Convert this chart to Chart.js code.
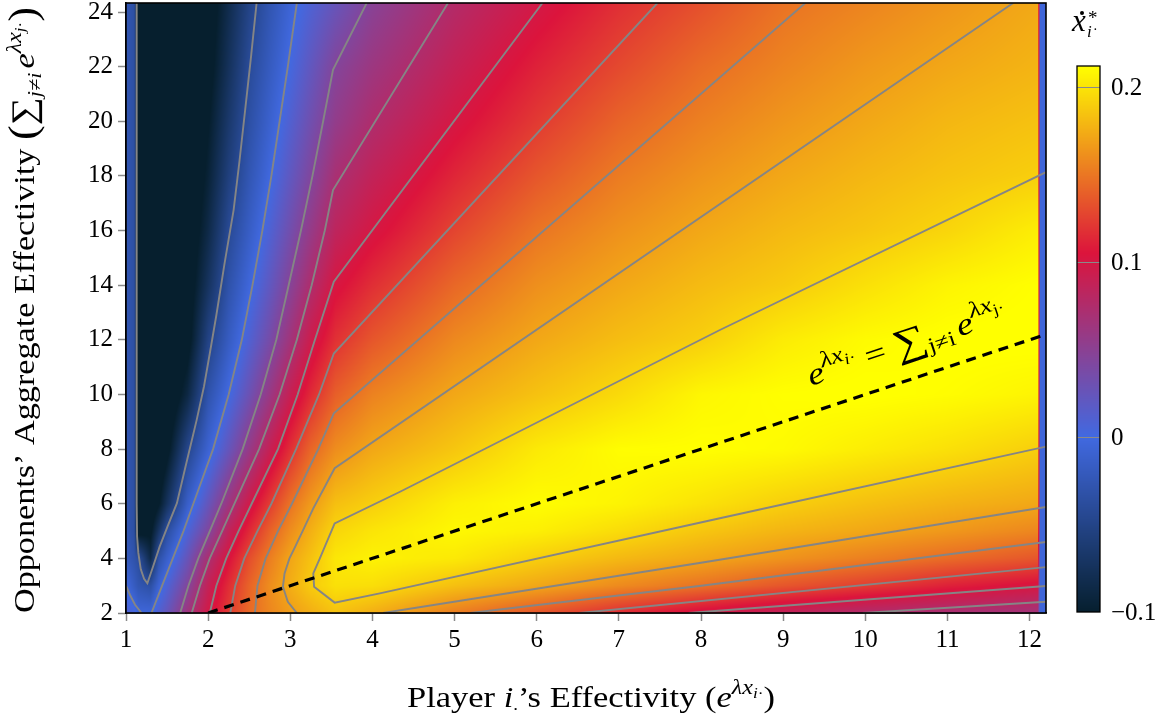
<!DOCTYPE html>
<html>
<head>
<meta charset="utf-8">
<script src="https://cdn.jsdelivr.net/npm/chart.js@4.4.1/dist/chart.umd.min.js"></script>
<style>
  html, body { margin: 0; padding: 0; background: #ffffff; }
  canvas { display: block; }
</style>
</head>
<body>
<canvas id="chart" width="1175" height="721"></canvas>
<script>
// Axis ticks
const xTicks = [1, 2, 3, 4, 5, 6, 7, 8, 9, 10, 11, 12];
const yTicks = [2, 4, 6, 8, 10, 12, 14, 16, 18, 20, 22, 24];

// Sample grid of the rate surface: columns (player effectivity), rows (opponents' aggregate)
const gridX = [1, 1.1, 1.15, 1.3, 1.4, 1.5, 1.75, 2, 2.25, 2.5, 2.75, 3, 3.25, 3.55, 4, 5, 6, 7, 8, 9, 10, 11, 12.1, 12.13, 12.2];
const gridY = [2, 3, 4, 5, 6, 8, 10, 12, 14, 16, 18, 20, 22, 24.33];
const rowY2  = [0.010, 0.004, -0.004, -0.004, 0.012, 0.024, 0.064, 0.098, 0.123, 0.144, 0.157, 0.167, 0.175, 0.184, 0.175, 0.153, 0.135, 0.116, 0.099, 0.086, 0.075, 0.070, 0.066, -0.005, -0.005];
const rowY3  = [-0.002, -0.018, -0.026, -0.034, -0.008, 0.008, 0.044, 0.088, 0.116, 0.141, 0.160, 0.175, 0.188, 0.198, 0.197, 0.183, 0.172, 0.159, 0.148, 0.135, 0.124, 0.111, 0.101, -0.005, -0.005];
const rowY4  = [-0.020, -0.030, -0.037, -0.085, -0.032, -0.013, 0.026, 0.071, 0.103, 0.131, 0.153, 0.171, 0.184, 0.201, 0.206, 0.202, 0.190, 0.180, 0.172, 0.163, 0.154, 0.145, 0.135, -0.005, -0.005];
const rowY5  = [-0.025, -0.035, -0.110, -0.105, -0.070, -0.036, 0.007, 0.042, 0.085, 0.114, 0.140, 0.160, 0.176, 0.193, 0.200, 0.209, 0.205, 0.196, 0.186, 0.178, 0.172, 0.165, 0.157, -0.005, -0.005];
const rowY6  = [-0.025, -0.035, -0.120, -0.120, -0.102, -0.074, -0.014, 0.024, 0.062, 0.096, 0.123, 0.148, 0.166, 0.183, 0.190, 0.205, 0.211, 0.207, 0.199, 0.190, 0.183, 0.177, 0.172, -0.005, -0.005];
const rowY8  = [-0.025, -0.035, -0.120, -0.125, -0.125, -0.108, -0.048, -0.009, 0.024, 0.057, 0.089, 0.117, 0.142, 0.160, 0.172, 0.186, 0.202, 0.211, 0.212, 0.210, 0.204, 0.198, 0.190, -0.005, -0.005];
const rowY10 = [-0.025, -0.035, -0.120, -0.130, -0.130, -0.125, -0.088, -0.030, 0.000, 0.029, 0.059, 0.090, 0.115, 0.139, 0.155, 0.172, 0.184, 0.195, 0.208, 0.212, 0.213, 0.211, 0.207, -0.005, -0.005];
const rowY12 = [-0.025, -0.035, -0.120, -0.130, -0.130, -0.130, -0.110, -0.052, -0.018, 0.010, 0.036, 0.065, 0.094, 0.118, 0.135, 0.158, 0.172, 0.182, 0.190, 0.203, 0.210, 0.213, 0.2135, -0.005, -0.005];
const rowY14 = [-0.025, -0.035, -0.120, -0.130, -0.130, -0.130, -0.115, -0.073, -0.031, -0.004, 0.021, 0.047, 0.074, 0.101, 0.117, 0.143, 0.161, 0.172, 0.181, 0.188, 0.198, 0.207, 0.212, -0.005, -0.005];
const rowY16 = [-0.025, -0.035, -0.120, -0.130, -0.130, -0.130, -0.120, -0.086, -0.043, -0.016, 0.009, 0.033, 0.057, 0.084, 0.100, 0.127, 0.149, 0.162, 0.172, 0.180, 0.186, 0.193, 0.204, -0.005, -0.005];
const rowY18 = [-0.025, -0.035, -0.120, -0.130, -0.130, -0.130, -0.125, -0.095, -0.056, -0.026, -0.002, 0.021, 0.043, 0.070, 0.087, 0.113, 0.135, 0.152, 0.163, 0.172, 0.179, 0.185, 0.190, -0.005, -0.005];
const rowY20 = [-0.025, -0.035, -0.120, -0.130, -0.130, -0.130, -0.128, -0.102, -0.066, -0.034, -0.011, 0.011, 0.032, 0.055, 0.074, 0.100, 0.122, 0.141, 0.154, 0.164, 0.172, 0.179, 0.184, -0.005, -0.005];
const rowY22 = [-0.025, -0.035, -0.120, -0.130, -0.130, -0.130, -0.130, -0.110, -0.075, -0.041, -0.019, 0.002, 0.022, 0.045, 0.062, 0.089, 0.111, 0.129, 0.145, 0.156, 0.165, 0.172, 0.178, -0.005, -0.005];
const rowY24 = [-0.025, -0.035, -0.120, -0.130, -0.130, -0.130, -0.130, -0.115, -0.083, -0.051, -0.027, -0.007, 0.009, 0.025, 0.048, 0.077, 0.098, 0.117, 0.132, 0.148, 0.156, 0.164, 0.173, -0.005, -0.005];

// Contour lines (level curves of the rate surface)
const contourL1  = [[1.13,24.33],[1.13,6],[1.135,4.8],[1.15,4.2],[1.18,3.6],[1.22,3.25],[1.26,3.09],[1.33,3.7],[1.41,4.43],[1.51,5.2],[1.62,6.02],[1.72,7.3],[1.86,9.06],[1.95,10.3],[2.02,11.5],[2.10,12.9],[2.20,14.8],[2.31,16.75],[2.38,18.5],[2.45,20.4],[2.52,22.3],[2.59,24.33]];
const contourL2a = [[1.0,3.0],[1.05,2.65],[1.11,2.3],[1.19,2.0]];
const contourL2  = [[1.31,2],[1.44,3],[1.57,4],[1.70,5],[1.82,6],[2.06,8],[2.25,10],[2.41,12],[2.54,14],[2.66,16],[2.77,18],[2.87,20],[2.97,22],[3.08,24.33]];
const contourL3  = [[1.66,2],[1.76,3],[1.88,4],[2.02,5],[2.16,6],[2.42,8],[2.64,10],[2.83,12],[2.98,14],[3.13,16],[3.27,18],[3.40,20],[3.52,21.88],[3.93,24.33]];
const contourL4  = [[1.80,2],[1.90,3],[2.02,4],[2.17,5],[2.32,6],[2.62,8],[2.87,10],[3.08,12],[3.26,14],[3.42,16],[3.52,17.48],[4.92,24.33]];
const contourL4b = [[9.97,2],[12.2,2.41]];
const contourL5  = [[2.02,2],[2.10,3],[2.22,4],[2.37,5],[2.53,6],[2.85,8],[3.09,10],[3.30,12],[3.53,14.13],[6.07,24.33]];
const contourL5b = [[7.85,2],[12.2,2.99]];
const contourL6  = [[2.27,2],[2.33,3],[2.44,4],[2.60,5],[2.77,6],[3.07,8],[3.35,10],[3.53,11.5],[7.47,24.33]];
const contourL6b = [[6.52,2],[12.2,3.68]];
const contourL7  = [[2.57,2],[2.60,3],[2.70,4],[2.85,5],[3.02,6],[3.34,8],[3.53,9.31],[9.27,24.33]];
const contourL7b = [[5.19,2],[7.98,2.99],[12.2,4.6]];
const contourL8  = [[3.08,2],[2.97,2.41],[2.91,2.96],[2.93,3.45],[2.99,4.0],[3.06,4.43],[3.15,5.0],[3.28,5.83],[3.54,7.30],[11.8,24.33]];
const contourL8b = [[4.13,2],[8.0,3.84],[12.2,5.88]];
const contourL9  = [[12.2,18.14],[8.23,12.36],[4.33,6.43],[3.54,5.28],[3.36,4.0],[3.28,3.45],[3.29,2.96],[3.54,2.38],[4.09,2.72],[8.23,5.47],[12.2,8.09]];

// Equal-effectivity line
const parityLine = [[2, 2], [12.2, 12.2]];

// Colour bar
const cbTicks = [-0.1, 0, 0.1, 0.2];
const cbLabels = ['\u22120.1', '0', '0.1', '0.2'];

const gridZ = [rowY2, rowY3, rowY4, rowY5, rowY6, rowY8, rowY10, rowY12, rowY14, rowY16, rowY18, rowY20, rowY22, rowY24];
const contours = [contourL1, contourL2a, contourL2, contourL3, contourL4, contourL4b, contourL5, contourL5b,
                  contourL6, contourL6b, contourL7, contourL7b, contourL8, contourL8b, contourL9];

const SERIF = '"Liberation Serif", "DejaVu Serif", serif';
const cmapStops = [-0.1, 0, 0.105, 0.212];
const cmapRGB = [[6, 31, 46], [65, 105, 225], [220, 20, 60], [255, 255, 0]];
const cbMin = -0.1, cbMax = 0.212;

function colorAt(v) {
  if (v <= cmapStops[0]) return cmapRGB[0];
  if (v >= cmapStops[cmapStops.length - 1]) return cmapRGB[cmapRGB.length - 1];
  for (let i = 0; i < cmapStops.length - 1; i++) {
    if (v <= cmapStops[i + 1]) {
      const t = (v - cmapStops[i]) / (cmapStops[i + 1] - cmapStops[i]);
      const a = cmapRGB[i], b = cmapRGB[i + 1];
      return [a[0] + (b[0] - a[0]) * t, a[1] + (b[1] - a[1]) * t, a[2] + (b[2] - a[2]) * t];
    }
  }
  return cmapRGB[0];
}

function locate(arr, v) {
  if (v <= arr[0]) return [0, 0];
  const n = arr.length;
  if (v >= arr[n - 1]) return [n - 2, 1];
  let k = 0;
  while (k < n - 2 && v > arr[k + 1]) k++;
  return [k, (v - arr[k]) / (arr[k + 1] - arr[k])];
}

// Shaded surface, drawn through the chart's own scales
const surfacePlugin = {
  id: 'surface',
  beforeDatasetsDraw(chart) {
    const { ctx, chartArea: a, scales } = chart;
    const left = Math.round(a.left), top = Math.round(a.top);
    const w = Math.round(a.right) - left, h = Math.round(a.bottom) - top;
    const img = ctx.createImageData(w, h);
    const cols = [], rows = [];
    for (let i = 0; i < w; i++) cols.push(locate(gridX, scales.x.getValueForPixel(left + i + 0.5)));
    for (let j = 0; j < h; j++) rows.push(locate(gridY, scales.y.getValueForPixel(top + j + 0.5)));
    let p = 0;
    for (let j = 0; j < h; j++) {
      const [r, fy] = rows[j];
      const z0 = gridZ[r], z1 = gridZ[r + 1];
      for (let i = 0; i < w; i++) {
        const [c, fx] = cols[i];
        const v = (1 - fy) * ((1 - fx) * z0[c] + fx * z0[c + 1]) + fy * ((1 - fx) * z1[c] + fx * z1[c + 1]);
        const col = colorAt(v);
        img.data[p++] = col[0]; img.data[p++] = col[1]; img.data[p++] = col[2]; img.data[p++] = 255;
      }
    }
    ctx.putImageData(img, left, top);
  }
};

function fontOf(size, italic) { return (italic ? 'italic ' : '') + size + 'px ' + SERIF; }
function richWidth(ctx, parts, base) {
  let w = 0;
  for (const p of parts) { ctx.font = fontOf(base * (p.s || 1), p.it); w += ctx.measureText(p.t).width; }
  return w;
}
function richDraw(ctx, parts, x, y, base) {
  let cx = x;
  for (const p of parts) {
    ctx.font = fontOf(base * (p.s || 1), p.it);
    ctx.fillText(p.t, cx, y + (p.dy || 0) * base);
    cx += ctx.measureText(p.t).width;
  }
}
// Draw rich text on a baseline through (cx, cy), rotated, stretched to a given length
function richPlaced(ctx, parts, base, cx, cy, angle, length, align) {
  const w = richWidth(ctx, parts, base);
  const sx = length ? length / w : 1;
  ctx.save();
  ctx.translate(cx, cy);
  ctx.rotate(angle);
  ctx.scale(sx, 1);
  ctx.fillStyle = '#000';
  ctx.textBaseline = 'alphabetic';
  ctx.textAlign = 'left';
  richDraw(ctx, parts, align === 'left' ? 0 : -w / 2, 0, base);
  ctx.restore();
}

const decorPlugin = {
  id: 'decor',
  afterDatasetsDraw(chart) {
    const { ctx, chartArea: a, scales } = chart;
    // frame
    ctx.save();
    ctx.strokeStyle = '#000';
    ctx.lineWidth = 1.6;
    ctx.strokeRect(a.left, a.top, a.right - a.left, a.bottom - a.top);
    ctx.restore();

    // label along the equal-effectivity line
    const p0x = scales.x.getPixelForValue(2), p0y = scales.y.getPixelForValue(2);
    const p1x = scales.x.getPixelForValue(12.2), p1y = scales.y.getPixelForValue(12.2);
    const ang = Math.atan2(p1y - p0y, p1x - p0x);
    const eqParts = [
      { t: 'e', it: true }, { t: '\u03BBx', it: true, s: 0.72, dy: -0.45 }, { t: 'i', it: true, s: 0.5, dy: -0.3 }, { t: '\u00B7', s: 0.5, dy: -0.3 },
      { t: ' = ' }, { t: '\u2211', s: 1.25, dy: 0.04 }, { t: 'j\u2260i', s: 0.68, dy: 0.2 }, { t: ' ', s: 0.5 },
      { t: 'e', it: true }, { t: '\u03BBx', it: true, s: 0.72, dy: -0.45 }, { t: 'j', s: 0.5, dy: -0.3 }, { t: '\u00B7', s: 0.5, dy: -0.3 }
    ];
    richPlaced(ctx, eqParts, 31, 811, 386, ang, 208, 'left');
  },
  afterDraw(chart) {
    const { ctx } = chart;
    // colour bar
    const L = 1077, R = 1100, T = 66, B = 612;
    const vToPx = v => B - (v - cbMin) / (cbMax - cbMin) * (B - T);
    for (let py = T; py < B; py++) {
      const v = cbMax - (py + 0.5 - T) / (B - T) * (cbMax - cbMin);
      const c = colorAt(v);
      ctx.fillStyle = 'rgb(' + Math.round(c[0]) + ',' + Math.round(c[1]) + ',' + Math.round(c[2]) + ')';
      ctx.fillRect(L, py, R - L, 1);
    }
    ctx.save();
    ctx.strokeStyle = '#8a8a8a';
    ctx.lineWidth = 1;
    cbTicks.forEach(v => {
      if (v > cbMin) {
        const y = Math.round(vToPx(v)) + 0.5;
        ctx.beginPath(); ctx.moveTo(L, y); ctx.lineTo(R, y); ctx.stroke();
      }
    });
    ctx.strokeStyle = '#000';
    ctx.lineWidth = 1.3;
    ctx.strokeRect(L, T, R - L, B - T);
    ctx.fillStyle = '#000';
    ctx.font = fontOf(25, false);
    ctx.textBaseline = 'middle';
    ctx.textAlign = 'left';
    cbTicks.forEach((v, i) => ctx.fillText(cbLabels[i], 1111, vToPx(v) + 1));
    ctx.restore();

    // colour bar title: x-dot star, subscript i·
    ctx.save();
    ctx.fillStyle = '#000';
    ctx.textBaseline = 'alphabetic';
    ctx.font = fontOf(31, true);
    ctx.fillText('x', 1072, 31);
    ctx.beginPath(); ctx.arc(1082, 13, 2, 0, Math.PI * 2); ctx.fill();
    ctx.font = fontOf(19, false);
    ctx.fillText('*', 1088, 24);
    ctx.font = fontOf(17, true);
    ctx.fillText('i', 1087, 37);
    ctx.font = fontOf(14, false);
    ctx.fillText('\u00B7', 1093, 34);
    ctx.restore();

    // x axis title
    const xParts = [
      { t: 'Player ' }, { t: 'i', it: true }, { t: '.', s: 0.55, dy: 0.1 }, { t: '\u2019s Effectivity (' },
      { t: 'e', it: true }, { t: '\u03BBx', it: true, s: 0.7, dy: -0.45 }, { t: 'i', it: true, s: 0.5, dy: -0.3 }, { t: '\u00B7', s: 0.5, dy: -0.3 },
      { t: ')' }
    ];
    richPlaced(ctx, xParts, 30, 591, 707, 0, 368);

    // y axis title
    const yParts = [
      { t: 'Opponents\u2019 Aggregate Effectivity ' }, { t: '(', s: 1.3, dy: 0.06 },
      { t: '\u2211', s: 1.15, dy: 0.04 }, { t: 'j\u2260i', it: true, s: 0.65, dy: 0.22 }, { t: ' ', s: 0.5 },
      { t: 'e', it: true }, { t: '\u03BBx', it: true, s: 0.7, dy: -0.45 }, { t: 'j', it: true, s: 0.5, dy: -0.3 }, { t: '\u00B7', s: 0.5, dy: -0.3 },
      { t: ')', s: 1.3, dy: 0.06 }
    ];
    richPlaced(ctx, yParts, 30, 34, 310, -Math.PI / 2, 606);
  }
};

const toPts = arr => arr.map(p => ({ x: p[0], y: p[1] }));

const datasets = [
  {
    data: toPts(parityLine), showLine: true, borderColor: '#000000', borderWidth: 3.2,
    borderDash: [10, 7], pointRadius: 0, fill: false, tension: 0
  }
].concat(contours.map(c => ({
  data: toPts(c), showLine: true, borderColor: '#858585', borderWidth: 1.9,
  pointRadius: 0, fill: false, tension: 0
})));

new Chart(document.getElementById('chart'), {
  type: 'scatter',
  data: { datasets },
  options: {
    responsive: false,
    animation: false,
    events: [],
    layout: { padding: { left: 0, top: 3, right: 129, bottom: 0 } },
    plugins: { legend: { display: false }, tooltip: { enabled: false } },
    scales: {
      x: {
        type: 'linear', min: 1, max: 12.2,
        afterBuildTicks: s => { s.ticks = xTicks.map(v => ({ value: v })); },
        afterFit: s => { s.height = 108; s.paddingLeft = 0; s.paddingRight = 0; },
        ticks: { color: '#000', font: { family: SERIF, size: 25 }, padding: 4, maxRotation: 0, autoSkip: false },
        grid: { display: true, drawOnChartArea: false, drawTicks: true, tickLength: 8, tickColor: '#8a8a8a', tickWidth: 1.5 },
        border: { display: true, color: '#000', width: 1.6 }
      },
      y: {
        type: 'linear', min: 2, max: 24.33,
        afterBuildTicks: s => { s.ticks = yTicks.map(v => ({ value: v })); },
        afterFit: s => { s.width = 126; s.paddingTop = 0; s.paddingBottom = 0; },
        ticks: { color: '#000', font: { family: SERIF, size: 25 }, padding: 5, autoSkip: false },
        grid: { display: true, drawOnChartArea: false, drawTicks: true, tickLength: 8, tickColor: '#8a8a8a', tickWidth: 1.5 },
        border: { display: true, color: '#000', width: 1.6 }
      }
    }
  },
  plugins: [surfacePlugin, decorPlugin]
});
</script>
</body>
</html>
